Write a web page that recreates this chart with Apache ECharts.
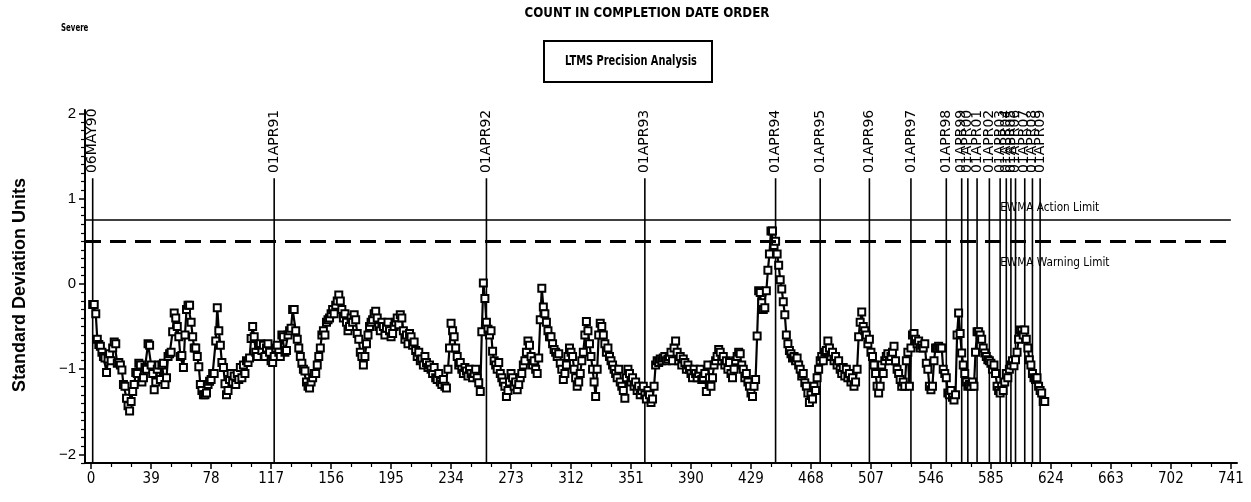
<!DOCTYPE html>
<html>
<head>
<meta charset="utf-8">
<script src="https://cdn.jsdelivr.net/npm/echarts@6/dist/echarts.min.js"></script>
<style>
  html, body { margin: 0; padding: 0; background: #fff; }
  #chart { width: 1251px; height: 502px; }
</style>
</head>
<body>
<div id="chart"></div>
<script>
// EWMA of the standardized test results, one value per test (count 1..620)
const ewma = [
  -0.24, -0.24, -0.35, -0.65, -0.71, -0.73, -0.80, -0.85, -0.87, -1.04,
  -0.88, -0.82, -0.90, -0.75, -0.68, -0.70, -0.93, -0.92, -0.95, -1.01,
  -1.18, -1.20, -1.34, -1.43, -1.49, -1.38, -1.26, -1.18, -1.04, -1.05,
  -0.93, -0.95, -1.15, -1.10, -0.98, -1.00, -0.70, -0.72, -0.95, -1.05,
  -1.24, -1.15, -1.00, -0.95, -1.12, -0.95, -0.93, -1.18, -1.10, -0.85,
  -0.82, -0.80, -0.56, -0.34, -0.40, -0.50, -0.62, -0.85, -0.84, -0.98,
  -0.60, -0.30, -0.25, -0.25, -0.45, -0.62, -0.75, -0.75, -0.85, -0.97,
  -1.18, -1.25, -1.30, -1.30, -1.28, -1.18, -1.14, -1.12, -1.05, -1.05,
  -0.67, -0.28, -0.55, -0.72, -0.92, -0.98, -1.17, -1.30, -1.25, -1.12,
  -1.05, -1.15, -1.08, -1.18, -1.05, -1.12, -0.98, -1.10, -0.95, -1.05,
  -0.90, -0.92, -0.87, -0.64, -0.50, -0.62, -0.80, -0.85, -0.72, -0.70,
  -0.78, -0.72, -0.85, -0.75, -0.70, -0.80, -0.90, -0.92, -0.85, -0.75,
  -0.72, -0.80, -0.85, -0.60, -0.62, -0.80, -0.78, -0.60, -0.55, -0.52,
  -0.30, -0.30, -0.55, -0.65, -0.75, -0.85, -0.93, -1.00, -1.02, -1.15,
  -1.20, -1.22, -1.15, -1.10, -1.05, -1.05, -0.95, -0.85, -0.75, -0.60,
  -0.55, -0.60, -0.45, -0.42, -0.40, -0.35, -0.30, -0.35, -0.25, -0.20,
  -0.13, -0.20, -0.30, -0.40, -0.35, -0.45, -0.55, -0.50, -0.40, -0.45,
  -0.36, -0.42, -0.58, -0.65, -0.80, -0.85, -0.95, -0.85, -0.70, -0.60,
  -0.50, -0.45, -0.42, -0.35, -0.32, -0.40, -0.50, -0.55, -0.45, -0.50,
  -0.60, -0.52, -0.45, -0.55, -0.62, -0.58, -0.50, -0.45, -0.40, -0.48,
  -0.36, -0.40, -0.55, -0.65, -0.60, -0.70, -0.58, -0.62, -0.72, -0.68,
  -0.78, -0.85, -0.80, -0.90, -0.88, -0.95, -0.85, -0.92, -0.98, -0.95,
  -1.00, -1.05, -0.98, -1.10, -1.12, -1.05, -1.15, -1.18, -1.12, -1.20,
  -1.22, -1.00, -0.75, -0.46, -0.55, -0.62, -0.75, -0.85, -0.95, -0.92,
  -1.00, -1.05, -0.98, -1.02, -1.08, -1.00, -1.05, -1.10, -1.05, -1.00,
  -1.10, -1.16, -1.26, -0.56, 0.01, -0.17, -0.45, -0.53, -0.60, -0.55,
  -0.79, -0.90, -0.95, -1.00, -0.92, -1.05, -1.10, -1.15, -1.20, -1.32,
  -1.25, -1.15, -1.05, -1.10, -1.20, -1.15, -1.24, -1.18, -1.10, -1.05,
  -0.95, -0.90, -0.80, -0.67, -0.72, -0.85, -0.95, -0.90, -1.00, -1.05,
  -0.87, -0.42, -0.05, -0.27, -0.35, -0.45, -0.55, -0.62, -0.62, -0.70,
  -0.77, -0.80, -0.85, -0.82, -0.93, -1.00, -1.12, -1.05, -0.95, -0.85,
  -0.75, -0.80, -0.85, -1.00, -1.10, -1.20, -1.15, -1.05, -0.90, -0.80,
  -0.60, -0.44, -0.55, -0.70, -0.85, -1.00, -1.15, -1.32, -1.00, -0.60,
  -0.46, -0.50, -0.60, -0.70, -0.80, -0.75, -0.85, -0.90, -0.95, -1.00,
  -1.05, -1.10, -1.00, -1.15, -1.20, -1.25, -1.34, -1.10, -1.00, -1.05,
  -1.15, -1.10, -1.20, -1.15, -1.25, -1.20, -1.30, -1.25, -1.20, -1.30,
  -1.35, -1.25, -1.30, -1.39, -1.35, -1.20, -0.95, -0.90, -0.92, -0.88,
  -0.90, -0.87, -0.85, -0.90, -0.88, -0.85, -0.80, -0.90, -0.75, -0.67,
  -0.80, -0.90, -0.85, -0.95, -0.88, -0.92, -1.00, -0.95, -1.00, -1.05,
  -1.10, -1.00, -1.05, -1.10, -1.05, -1.00, -1.12, -1.10, -1.05, -1.26,
  -0.95, -1.10, -1.20, -1.10, -0.95, -0.90, -0.85, -0.77, -0.80, -0.90,
  -0.85, -0.95, -0.90, -1.00, -0.92, -1.05, -1.10, -1.00, -0.90, -0.85,
  -0.80, -0.82, -0.95, -1.00, -1.10, -1.05, -1.15, -1.20, -1.28, -1.32,
  -1.20, -1.12, -0.61, -0.08, -0.10, -0.22, -0.30, -0.28, -0.08, 0.16,
  0.35, 0.62, 0.62, 0.45, 0.50, 0.35, 0.22, 0.05, -0.06, -0.21,
  -0.36, -0.60, -0.70, -0.78, -0.82, -0.87, -0.85, -0.90, -0.87, -0.95,
  -1.00, -1.08, -1.05, -1.16, -1.20, -1.28, -1.39, -1.30, -1.35, -1.20,
  -1.25, -1.10, -1.00, -0.90, -0.85, -0.90, -0.80, -0.78, -0.67, -0.75,
  -0.85, -0.80, -0.90, -0.85, -0.95, -0.90, -1.00, -1.05, -0.98, -1.08,
  -1.00, -1.10, -1.05, -1.15, -1.10, -1.20, -1.15, -1.00, -0.62, -0.45,
  -0.33, -0.50, -0.55, -0.60, -0.70, -0.65, -0.80, -0.85, -0.95, -1.05,
  -1.20, -1.28, -1.20, -0.95, -1.05, -0.90, -0.85, -0.82, -0.90, -0.85,
  -0.80, -0.73, -0.90, -1.00, -1.05, -1.12, -1.20, -1.15, -1.20, -0.90,
  -0.80, -1.20, -0.75, -0.60, -0.58, -0.65, -0.70, -0.67, -0.75, -0.72,
  -0.75, -0.70, -0.93, -1.00, -1.20, -1.24, -1.20, -0.90, -0.75, -0.75,
  -0.73, -0.75, -0.75, -1.00, -1.05, -1.10, -1.28, -1.30, -1.25, -1.33,
  -1.36, -1.30, -0.60, -0.34, -0.58, -0.81, -0.95, -1.05, -1.15, -1.20,
  -1.18, -1.20, -1.15, -1.20, -0.80, -0.56, -0.56, -0.60, -0.65, -0.75,
  -0.81, -0.85, -0.89, -0.90, -0.93, -1.00, -0.95, -1.05, -1.20, -1.25,
  -1.28, -1.20, -1.25, -1.15, -1.05, -1.10, -1.00, -0.95, -0.90, -0.96,
  -0.89, -0.80, -0.65, -0.54, -0.55, -0.60, -0.54, -0.65, -0.75, -0.89,
  -0.95, -1.05, -1.10, -1.12, -1.10, -1.20, -1.25, -1.28, -1.38, -1.38
];

// Reference dates (first test of each year) and the test count where they fall
const dateLabels = [
  '06MAY90', '01APR91', '01APR92', '01APR93', '01APR94', '01APR95', '01APR96',
  '01APR97', '01APR98', '01APR99', '01APR00', '01APR01', '01APR02', '01APR03',
  '01APR04', '01APR05', '01APR06', '01APR07', '01APR08', '01APR09'
];
const datePositions = [
  1, 119, 257, 360, 445, 474, 506, 533, 556, 566,
  570, 576, 584, 591, 595, 598, 601, 607, 612, 617
];

// Limits
const actionLimit = 0.75;
const warningLimit = 0.5;
const limitNames = ['EWMA Action Limit', 'EWMA Warning Limit'];

// Axis tick labels
const xTickValues = [0, 39, 78, 117, 156, 195, 234, 273, 312, 351, 390, 429, 468, 507, 546, 585, 624, 663, 702, 741];
const yTickValues = [-2, -1, 0, 1, 2];

// ---- axis ranges / layout constants ----
const X_MIN = -4, X_MAX = 745, X_LIMIT_END = 741;
const Y_MIN = -2.1, Y_MAX = 2.04;
const DATE_LINE_TOP = 1.24, DATE_LABEL_BASE = 1.3;
const LIMIT_LABEL_X = 591;

const xMinorTicks = [];
for (let v = 0; v <= 741; v += 13) if (v % 39 !== 0) xMinorTicks.push(v);
const yMinorTicks = [];
for (let k = -21; k <= 20; k++) if (k % 10 !== 0) yMinorTicks.push(k / 10);

const NARROW = '"Liberation Sans Narrow", "DejaVu Sans Condensed", "Liberation Sans", sans-serif';
const SANS = '"Liberation Sans", Arial, sans-serif';

const chart = echarts.init(document.getElementById('chart'), null, { renderer: 'canvas' });

const axisBlack = { color: '#000', width: 2 };

chart.setOption({
  animation: false,
  backgroundColor: '#fff',
  grid: { left: 85, right: 14, top: 110, bottom: 39, containLabel: false },
  xAxis: [
    {
      type: 'value', min: X_MIN, max: X_MAX,
      axisLine: { show: true, onZero: false, lineStyle: axisBlack },
      axisTick: { show: true, customValues: xTickValues, length: 6, lineStyle: { color: '#000', width: 1.5 } },
      axisLabel: {
        customValues: xTickValues, margin: 9, color: '#000',
        fontFamily: NARROW, fontSize: 15
      },
      splitLine: { show: false }
    },
    {
      type: 'value', min: X_MIN, max: X_MAX, position: 'bottom',
      axisLine: { show: false, onZero: false },
      axisTick: { show: true, customValues: xMinorTicks, length: 4, lineStyle: { color: '#000', width: 1.2 } },
      axisLabel: { show: false },
      splitLine: { show: false }
    }
  ],
  yAxis: [
    {
      type: 'value', min: Y_MIN, max: Y_MAX,
      axisLine: { show: true, onZero: false, lineStyle: axisBlack },
      axisTick: { show: true, customValues: yTickValues, length: 6, lineStyle: { color: '#000', width: 1.5 } },
      axisLabel: {
        customValues: yTickValues, margin: 9, color: '#000',
        fontFamily: SANS, fontSize: 15,
        formatter: v => String(v).replace('-', '\u2212')
      },
      splitLine: { show: false }
    },
    {
      type: 'value', min: Y_MIN, max: Y_MAX, position: 'left',
      axisLine: { show: false, onZero: false },
      axisTick: { show: true, customValues: yMinorTicks, length: 4, lineStyle: { color: '#000', width: 1.2 } },
      axisLabel: { show: false },
      splitLine: { show: false }
    }
  ],
  graphic: [
    { type: 'text', x: 61, y: 28, scaleX: 0.78,
      style: { text: 'Severe', font: 'bold 10px ' + NARROW, fill: '#000', verticalAlign: 'middle' } },
    { type: 'text', x: 647, y: 13, scaleX: 0.94,
      style: { text: 'COUNT IN COMPLETION DATE ORDER', font: 'bold 14px ' + NARROW, fill: '#000', align: 'center', verticalAlign: 'middle' } },
    { type: 'rect', shape: { x: 544, y: 41, width: 168, height: 41 }, style: { fill: 'none', stroke: '#000', lineWidth: 2 } },
    { type: 'text', x: 631, y: 61, scaleX: 0.78,
      style: { text: 'LTMS Precision Analysis', font: 'bold 14px ' + NARROW, fill: '#000', align: 'center', verticalAlign: 'middle' } },
    { type: 'text', x: 20, y: 285, rotation: Math.PI / 2,
      style: { text: 'Standard Deviation Units', font: 'bold 18px ' + SANS, fill: '#000', align: 'center', verticalAlign: 'middle' } }
  ],
  series: [
    {
      // yearly reference lines with their rotated date labels
      type: 'custom',
      xAxisIndex: 0, yAxisIndex: 0,
      z: 1,
      silent: true,
      clip: false,
      data: datePositions.map(p => [p]),
      renderItem: (params, api) => {
        const x = api.value(0);
        const bottom = api.coord([x, Y_MIN]);
        const top = api.coord([x, DATE_LINE_TOP]);
        const base = api.coord([x, DATE_LABEL_BASE]);
        return {
          type: 'group',
          children: [
            { type: 'line', shape: { x1: bottom[0], y1: bottom[1], x2: top[0], y2: top[1] },
              style: { stroke: '#000', lineWidth: 1.6 } },
            { type: 'text', x: base[0], y: base[1], rotation: Math.PI / 2,
              style: { text: dateLabels[params.dataIndex], font: '14px "DejaVu Sans", sans-serif',
                       fill: '#000', align: 'left', verticalAlign: 'middle' } }
          ]
        };
      }
    },
    {
      // limit captions
      type: 'custom',
      xAxisIndex: 0, yAxisIndex: 0,
      z: 3,
      silent: true,
      clip: false,
      data: [[LIMIT_LABEL_X, actionLimit], [LIMIT_LABEL_X, warningLimit]],
      renderItem: (params, api) => {
        const p = api.coord([api.value(0), api.value(1)]);
        const above = params.dataIndex === 0;
        return {
          type: 'text', x: p[0], y: p[1] + (above ? -12 : 21), scaleX: 0.9,
          style: { text: limitNames[params.dataIndex], font: '13px ' + NARROW, fill: '#000',
                   align: 'left', verticalAlign: 'middle' }
        };
      }
    },
    {
      type: 'line',
      xAxisIndex: 0, yAxisIndex: 0,
      z: 2,
      data: ewma.map((v, k) => [k + 1, v]),
      showAllSymbol: true,
      symbol: 'rect',
      symbolSize: 7,
      itemStyle: { color: '#fff', borderColor: '#000', borderWidth: 2 },
      lineStyle: { color: '#000', width: 2.2 },
      emphasis: { disabled: true },
      markLine: {
        silent: true,
        symbol: 'none',
        label: { show: false },
        data: [
          [{ coord: [X_MIN, actionLimit], lineStyle: { type: 'solid', width: 1.5, color: '#000' } },
           { coord: [X_LIMIT_END, actionLimit] }],
          [{ coord: [X_MIN, warningLimit], lineStyle: { type: [16, 9], width: 3, color: '#000' } },
           { coord: [X_LIMIT_END, warningLimit] }]
        ]
      }
    }
  ]
});
</script>
</body>
</html>
